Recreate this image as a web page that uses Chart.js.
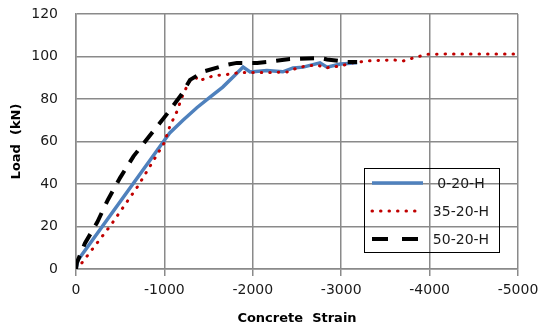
<!DOCTYPE html>
<html>
<head>
<meta charset="utf-8">
<script src="https://cdn.jsdelivr.net/npm/chart.js@4"></script>
<style>
  html, body { margin:0; padding:0; background:#fff; }
  #wrap { position:relative; width:539px; height:328px; }
</style>
</head>
<body>
<div id="wrap"><canvas id="chart"></canvas></div>
<script>
// load vs. concrete strain, three specimens
var seriesLabels = ['0-20-H', '35-20-H', '50-20-H'];

var strain0 = [0, -20, -990, -1060, -1210, -1370, -1520, -1660, -1800, -1890, -1970, -2160, -2340, -2455, -2570, -2760, -2840, -2990, -3180];
var load0   = [0, 4, 60, 64, 70, 76, 81, 85.6, 91.3, 95, 92.7, 93.4, 92.8, 94.6, 95, 97, 95, 96.5, 97];

var strain35 = [0, -50, -400, -700, -1000, -1060, -1140, -1200, -1260, -1310, -1360, -1380, -1460, -1560, -1700, -1860, -2000, -2200, -2390, -2500, -2600, -2730, -2820, -2990, -3130, -3290, -3590, -3700, -3860, -3970, -4200, -5000];
var load35   = [0, 2, 21, 39, 59.5, 67, 74, 81, 86.5, 90, 90, 88.5, 89.5, 91, 91.5, 92.5, 92.5, 92.5, 92.7, 94.6, 95.5, 96, 94.6, 95.5, 97, 97.9, 98.4, 97.9, 99.8, 101, 101.2, 101.2];

var strain50 = [0, -10, -100, -240, -360, -500, -650, -820, -1030, -1200, -1290, -1450, -1700, -1820, -2050, -2160, -2420, -2760, -2840, -3070, -3180];
var load50   = [0, 3, 12, 22, 32.5, 43, 53, 62, 73, 82.5, 89, 93, 96, 97, 97, 97.4, 98.8, 99.3, 98.6, 97.4, 97.4];

// axis ranges and tick spacing
var xMin = -5000, xMax = 0, xStep = 1000;
var yMin = 0, yMax = 120, yStep = 20;

var FONT = 'DejaVu Sans';
var TEXT = '#1a1a1a';
var GRID = '#8a8a8a';

function points(xs, ys) {
	return xs.map(function(x, i) { return {x:x, y:ys[i]}; });
}

var datasets = [
	{
		label:seriesLabels[0],
		data:points(strain0, load0),
		borderColor:'#4f81bd',
		borderWidth:3.5,
		order:3
	},
	{
		label:seriesLabels[1],
		data:points(strain35, load35),
		borderColor:'#c00000',
		borderWidth:3,
		borderDash:[0.5, 8],
		borderCapStyle:'round',
		order:2
	},
	{
		label:seriesLabels[2],
		data:points(strain50, load50),
		borderColor:'#000000',
		borderWidth:4,
		borderDash:[14, 10],
		order:1
	}
];

var chart = new Chart(document.getElementById('chart').getContext('2d'), {
	type:'line',
	data:{datasets:datasets},
	options:{
		responsive:true,
		maintainAspectRatio:false,
		animation:false,
		events:[],
		layout:{padding:{left:0, top:14, right:21, bottom:0}},
		elements:{
			point:{radius:0},
			line:{tension:0, fill:false}
		},
		plugins:{
			legend:{display:false},
			tooltip:{enabled:false}
		},
		scales:{
			x:{
				type:'linear',
				min:xMin,
				max:xMax,
				reverse:true,
				afterFit:function(s) { s.height = 59; s.paddingLeft = 0; s.paddingRight = 0; },
				ticks:{
					stepSize:xStep,
					color:TEXT,
					font:{family:FONT, size:14},
					padding:6,
					maxRotation:0,
					callback:function(v) { return String(v); }
				},
				grid:{color:GRID, lineWidth:1.5, tickLength:7, tickWidth:1.5, tickColor:GRID},
				border:{color:GRID, width:1.5},
				title:{
					display:true,
					text:'Concrete  Strain',
					color:'#000',
					font:{family:FONT, size:13, weight:'bold'},
					padding:{top:0, bottom:2}
				}
			},
			y:{
				type:'linear',
				min:yMin,
				max:yMax,
				afterFit:function(s) { s.width = 76; s.paddingTop = 0; s.paddingBottom = 0; },
				ticks:{
					stepSize:yStep,
					color:TEXT,
					font:{family:FONT, size:14},
					padding:18
				},
				grid:{color:GRID, lineWidth:1.5, drawTicks:false},
				border:{color:GRID, width:1.5},
				title:{
					display:true,
					text:'Load  (kN)',
					color:'#000',
					font:{family:FONT, size:13, weight:'bold'},
					padding:{top:9, bottom:0}
				}
			}
		}
	},
	plugins:[{
		// boxed legend sitting inside the plot, lower right (no fill, grid shows through)
		id:'boxLegend',
		afterDraw:function(chart) {
			var ctx = chart.ctx;
			var bx = 364.5, by = 168.5, bw = 135, bh = 84;
			ctx.save();
			ctx.strokeStyle = '#000';
			ctx.lineWidth = 1;
			ctx.setLineDash([]);
			ctx.strokeRect(bx, by, bw, bh);

			var rows = [183, 211, 239];
			var dashes = [[], [0.5, 8], [16, 14]];
			chart.data.datasets.forEach(function(ds, i) {
				ctx.beginPath();
				ctx.strokeStyle = ds.borderColor;
				ctx.lineWidth = ds.borderWidth;
				ctx.lineCap = ds.borderCapStyle || 'butt';
				ctx.setLineDash(dashes[i]);
				ctx.moveTo(372, rows[i]);
				ctx.lineTo(i === 0 ? 423 : 420, rows[i]);
				ctx.stroke();

				ctx.setLineDash([]);
				ctx.fillStyle = TEXT;
				ctx.font = '14px "' + FONT + '"';
				ctx.textAlign = 'center';
				ctx.textBaseline = 'middle';
				ctx.fillText(ds.label, 461, rows[i] + 1);
			});
			ctx.restore();
		}
	}]
});
</script>
</body>
</html>
